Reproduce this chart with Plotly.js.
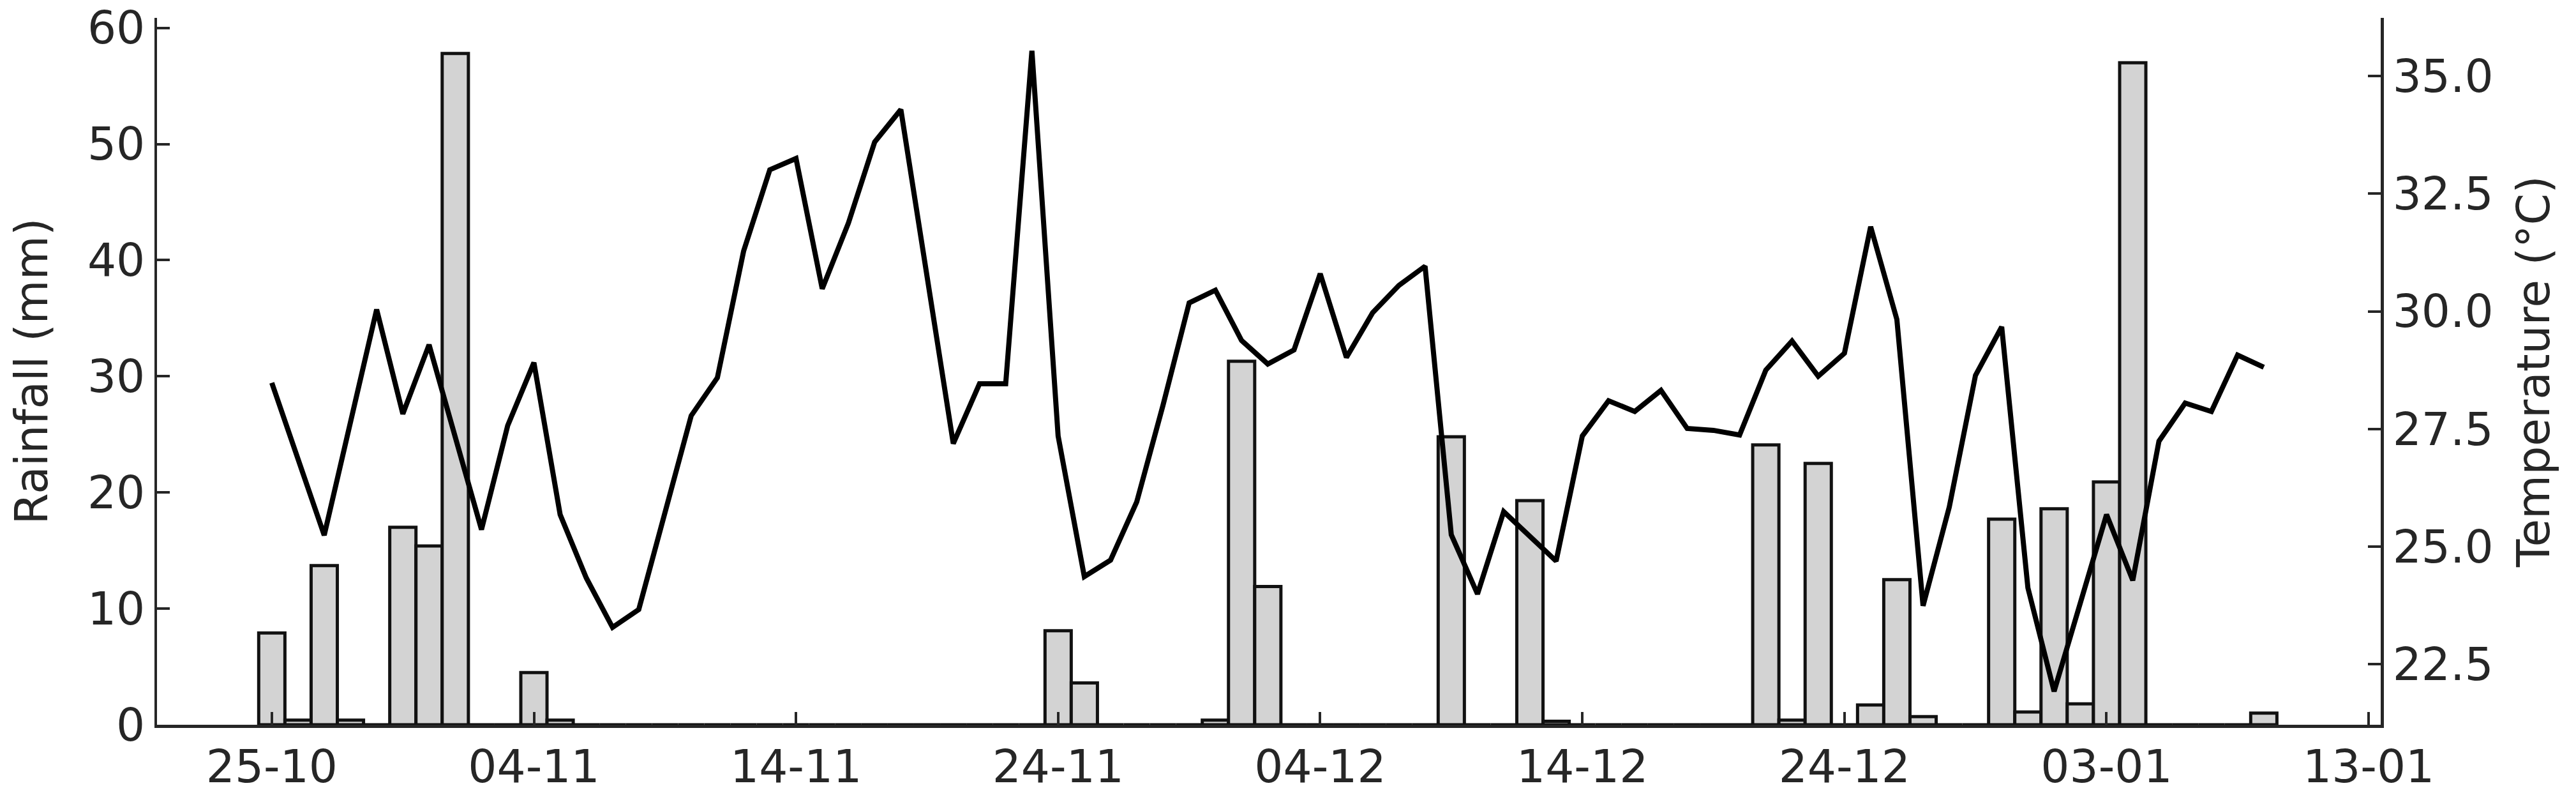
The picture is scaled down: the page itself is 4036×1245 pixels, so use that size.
<!DOCTYPE html>
<html>
<head>
<meta charset="utf-8">
<script src="https://cdn.plot.ly/plotly-3.0.1.min.js"></script>
<style>
  html, body { margin: 0; padding: 0; background: #fff; }
  #chart { width: 4036px; height: 1245px; }
</style>
</head>
<body>
<div id="chart"></div>
<script>
// daily series, first day 25-10 (one value per day)
const startDate = '2023-10-25';

// rainfall (mm), one per day
const rainfall = [
  7.9, 0.4, 13.7, 0.4, 0, 17.0, 15.4, 57.8, 0, 0,
  4.5, 0.4, 0, 0, 0, 0, 0, 0, 0, 0,
  0, 0, 0, 0, 0, 0, 0, 0, 0, 0,
  8.1, 3.6, 0, 0, 0, 0, 0.4, 31.3, 11.9, 0,
  0, 0, 0, 0, 0, 24.8, 0, 0, 19.3, 0.3,
  0, 0, 0, 0, 0, 0, 0, 24.1, 0.4, 22.5,
  0, 1.7, 12.5, 0.7, 0, 0, 17.7, 1.1, 18.6, 1.8,
  20.9, 57.0, 0, 0, 0, 0, 1.0
];

// temperature (°C), null = no reading that day
const temperature = [
  28.48, null, 25.24, null, 30.04, 27.82, 29.29, null, 25.36, 27.57,
  28.91, 25.68, 24.33, 23.28, 23.66, null, 27.78, 28.59, 31.28, 33.01,
  33.25, 30.48, 31.88, 33.60, 34.29, null, 27.19, 28.46, 28.46, 35.54,
  27.35, 24.36, 24.71, 25.95, 28.00, 30.18, 30.45, 29.38, 28.88, 29.18,
  30.80, 29.02, 29.97, 30.55, 30.96, 25.25, 23.99, 25.74, null, 24.69,
  27.35, 28.10, 27.87, 28.32, 27.51, 27.47, 27.37, 28.75, 29.37, 28.62,
  29.11, 31.80, 29.83, 23.74, 25.84, 28.64, 29.67, 24.12, 21.92, null,
  25.68, 24.28, 27.24, 28.05, 27.87, 29.07, 28.81
];

const DAY = 86400000;

function dayList(start, n) {
  const t0 = Date.parse(start + 'T00:00:00Z');
  const out = [];
  for (let i = 0; i < n; i++) out.push(new Date(t0 + i * DAY).toISOString().slice(0, 10));
  return out;
}

const dates = dayList(startDate, rainfall.length);

const INK = '#262626';
const FONT = { family: "'DejaVu Sans', sans-serif", size: 71, color: INK };

const traces = [
  {
    type: 'bar',
    x: dates,
    y: rainfall,
    width: DAY,
    marker: { color: '#d3d3d3', line: { color: '#111111', width: 5 } },
    yaxis: 'y',
    hoverinfo: 'skip',
  },
  {
    type: 'scatter',
    mode: 'lines',
    x: dates,
    y: temperature,
    connectgaps: true,
    line: { color: '#000000', width: 8 },
    yaxis: 'y2',
    hoverinfo: 'skip',
  },
];

const axisBase = {
  showgrid: false,
  zeroline: false,
  showline: true,
  linecolor: INK,
  linewidth: 4.5,
  ticks: 'inside',
  ticklen: 20,
  tickwidth: 4,
  tickcolor: INK,
  tickfont: FONT,
};

const layout = {
  width: 4036,
  height: 1245,
  paper_bgcolor: '#ffffff',
  plot_bgcolor: '#ffffff',
  font: FONT,
  showlegend: false,
  margin: { l: 246, r: 306, t: 28, b: 110, pad: 0 },
  bargap: 0,
  xaxis: {
    ...axisBase,
    type: 'date',
    range: ['2023-10-20 14:53', '2024-01-13 11:02'],
    tickmode: 'linear',
    tick0: startDate,
    dtick: 10 * DAY,
    tickformat: '%d-%m',
  },
  yaxis: {
    ...axisBase,
    range: [0, 60.86],
    tickmode: 'linear',
    tick0: 0,
    dtick: 10,
    title: { text: 'Rainfall (mm)', font: FONT, standoff: 40 },
  },
  yaxis2: {
    ...axisBase,
    overlaying: 'y',
    side: 'right',
    range: [21.21, 36.24],
    tickmode: 'linear',
    tick0: 22.5,
    dtick: 2.5,
    tickformat: '.1f',
    title: { text: 'Temperature (°C)', font: FONT, standoff: 40 },
  },
};

Plotly.newPlot('chart', traces, layout, { displayModeBar: false, staticPlot: true });
</script>
</body>
</html>
